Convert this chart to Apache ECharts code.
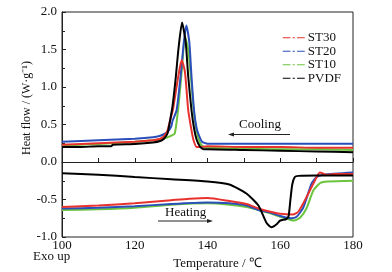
<!DOCTYPE html>
<html>
<head>
<meta charset="utf-8">
<script src="https://cdn.jsdelivr.net/npm/echarts@6/dist/echarts.min.js"></script>
<style>
  html, body { margin: 0; padding: 0; background: #fff; }
  #chart { width: 392px; height: 272px; }
</style>
</head>
<body>
<div id="chart"></div>
<script>
// DSC curves, temperature in degC, heat flow in W/g
const xTicks = [100, 120, 140, 160, 180];
const yTicks = [-1.0, -0.5, 0.0, 0.5, 1.0, 1.5, 2.0];

// cooling (upper) curves
const coolT_ST30 = [100, 110, 120, 125, 127, 128, 129, 129.7, 130.5, 131, 132, 132.9, 133.8, 134.7, 135.5, 136.1, 137, 138, 140, 150, 160, 170, 180];
const coolV_ST30 = [0.23, 0.25, 0.27, 0.29, 0.31, 0.34, 0.42, 0.55, 0.7, 0.85, 1.15, 1.36, 1.2, 0.69, 0.45, 0.3, 0.2, 0.2, 0.21, 0.2, 0.2, 0.19, 0.19];

const coolT_ST20 = [100, 110, 120, 125, 127, 128, 129, 130, 130.4, 131.5, 132.6, 133.5, 134.2, 135, 135.6, 136.3, 137, 137.7, 138.5, 139.5, 140, 150, 160, 170, 180];
const coolV_ST20 = [0.27, 0.29, 0.31, 0.33, 0.35, 0.37, 0.4, 0.47, 0.55, 0.69, 1.14, 1.6, 1.82, 1.6, 1.14, 0.69, 0.45, 0.35, 0.27, 0.25, 0.245, 0.245, 0.245, 0.245, 0.245];

const coolT_ST10 = [100, 110, 120, 125, 127, 128, 129, 130, 131, 131.9, 132.9, 133.8, 134.7, 135.5, 136.2, 137, 138, 139, 140, 150, 160, 170, 180];
const coolV_ST10 = [0.22, 0.24, 0.27, 0.29, 0.3, 0.31, 0.33, 0.35, 0.38, 0.69, 1.2, 1.67, 1.5, 1.1, 0.69, 0.42, 0.25, 0.2, 0.19, 0.18, 0.17, 0.17, 0.16];

const coolT_PVDF = [100, 105, 110, 113.5, 114, 120, 125, 127, 128, 129, 129.7, 130.4, 131.3, 132, 133, 134, 134.7, 135.6, 136.3, 137, 138, 139, 140, 150, 160, 170, 180];
const coolV_PVDF = [0.2, 0.2, 0.21, 0.21, 0.23, 0.24, 0.26, 0.28, 0.31, 0.38, 0.55, 0.75, 1.14, 1.5, 1.86, 1.6, 1.14, 0.69, 0.45, 0.3, 0.2, 0.17, 0.17, 0.16, 0.15, 0.14, 0.13];

// heating (lower) curves
const heatT_ST30 = [100, 110, 120, 130, 135, 140, 146, 150.7, 154, 157, 160, 163.5, 165, 167.2, 169.5, 170.9, 172.7, 175, 180];
const heatV_ST30 = [-0.6, -0.58, -0.55, -0.51, -0.49, -0.48, -0.52, -0.56, -0.62, -0.66, -0.69, -0.7, -0.66, -0.47, -0.25, -0.14, -0.17, -0.16, -0.16];

const heatT_ST20 = [100, 110, 120, 130, 140, 146, 150.7, 154, 157, 160, 163, 164.5, 166.3, 168.6, 170, 172, 180];
const heatV_ST20 = [-0.62, -0.61, -0.59, -0.56, -0.54, -0.55, -0.58, -0.64, -0.67, -0.72, -0.75, -0.73, -0.61, -0.29, -0.2, -0.17, -0.14];

const heatT_ST10 = [100, 110, 120, 130, 140, 146, 150.7, 154, 157, 160, 163.8, 165.5, 167.2, 169.1, 171, 173, 180];
const heatV_ST10 = [-0.64, -0.63, -0.61, -0.57, -0.55, -0.57, -0.6, -0.64, -0.68, -0.73, -0.78, -0.74, -0.62, -0.38, -0.28, -0.26, -0.25];

const heatT_PVDF = [100, 110, 120, 130, 140, 146, 150.7, 154, 156.2, 157.6, 159, 160, 161.7, 162.3, 162.8, 163.3, 164, 165, 170, 180];
const heatV_PVDF = [-0.15, -0.17, -0.2, -0.23, -0.26, -0.3, -0.42, -0.58, -0.81, -0.87, -0.83, -0.78, -0.76, -0.72, -0.5, -0.3, -0.2, -0.185, -0.18, -0.18];

const names = ["ST30", "ST20", "ST10", "PVDF"];
const colors = { ST30: "#e8322e", ST20: "#2b4fba", ST10: "#6cc43e", PVDF: "#000000" };

var chartDom = document.getElementById("chart");
var myChart = echarts.init(chartDom);
var option;

function pairs(t, v) {
  return t.map((x, i) => [x, v[i]]);
}

function makeSeries(name, t, v) {
  return {
    name: name,
    type: "line",
    data: pairs(t, v),
    showSymbol: false,
    symbol: "none",
    smooth: 0.2,
    lineStyle: { width: 2, color: colors[name] },
    itemStyle: { color: colors[name] },
  };
}

const serif = "Liberation Serif";
// dash-dot legend icon
const dashDot = "path://M0,0H7V1H0Z M9,0H11V1H9Z M13,0H20V1H13Z";

option = {
  animation: false,
  backgroundColor: "#ffffff",
  grid: {
    left: 62,
    right: 39,
    top: 12,
    bottom: 35,
    outerBoundsMode: "none",
    containLabel: false,
    show: true,
    borderColor: "#222",
    borderWidth: 1,
  },
  legend: {
    data: names.map((n) => ({ name: n, icon: dashDot })),
    orient: "vertical",
    right: 46,
    top: 26,
    itemGap: 0,
    itemWidth: 22,
    itemHeight: 1.5,
    textStyle: { fontFamily: serif, fontSize: 13, color: "#111", lineHeight: 13.5, padding: [0, 0, 0, -2] },
  },
  xAxis: {
    type: "value",
    min: 100,
    max: 180,
    interval: 20,
    name: "Temperature / ℃",
    nameLocation: "middle",
    nameGap: 20,
    nameTextStyle: { fontFamily: serif, fontSize: 13, color: "#111", padding: [0, 0, 0, 20] },
    axisLine: { show: true, lineStyle: { color: "#222", width: 1 } },
    axisTick: { show: true, inside: true, length: 4, lineStyle: { color: "#222" } },
    minorTick: { show: true, splitNumber: 2, length: 4, lineStyle: { color: "#222" } },
    splitLine: { show: false },
    axisLabel: {
      fontFamily: serif,
      fontSize: 13,
      color: "#111",
      margin: 2,
      formatter: (v) => (xTicks.includes(v) ? String(v) : ""),
    },
  },
  yAxis: {
    type: "value",
    min: -1.0,
    max: 2.0,
    interval: 0.5,
    axisLine: { show: true, lineStyle: { color: "#222", width: 1 } },
    axisTick: { show: true, inside: true, length: 4, lineStyle: { color: "#222" } },
    minorTick: { show: true, splitNumber: 2, length: 3, lineStyle: { color: "#222" } },
    splitLine: { show: false },
    axisLabel: {
      fontFamily: serif,
      fontSize: 13,
      color: "#111",
      margin: 5,
      formatter: (v) => (yTicks.some((t) => Math.abs(t - v) < 1e-6) ? v.toFixed(1) : ""),
    },
  },
  graphic: [
    {
      type: "text",
      x: 27,
      y: 108,
      rotation: Math.PI / 2,
      style: {
        text: "Heat flow / (W·g⁻¹)",
        fontFamily: serif,
        fontSize: 12,
        fill: "#111",
        align: "center",
        verticalAlign: "middle",
      },
    },
    {
      type: "text",
      x: 33,
      y: 257,
      style: { text: "Exo up", fontFamily: serif, fontSize: 13, fill: "#111", verticalAlign: "middle" },
    },
    {
      type: "text",
      x: 239,
      y: 125,
      style: { text: "Cooling", fontFamily: serif, fontSize: 13, fill: "#111", verticalAlign: "middle" },
    },
    {
      type: "line",
      shape: { x1: 230, y1: 134.5, x2: 290, y2: 134.5 },
      style: { stroke: "#222", lineWidth: 1 },
    },
    {
      type: "polygon",
      shape: { points: [[228, 134.5], [234, 132.5], [234, 136.5]] },
      style: { fill: "#222" },
    },
    {
      type: "text",
      x: 165,
      y: 213,
      style: { text: "Heating", fontFamily: serif, fontSize: 13, fill: "#111", verticalAlign: "middle" },
    },
    {
      type: "line",
      shape: { x1: 158, y1: 221, x2: 210, y2: 221 },
      style: { stroke: "#222", lineWidth: 1 },
    },
    {
      type: "polygon",
      shape: { points: [[213, 221], [207, 219], [207, 223]] },
      style: { fill: "#222" },
    },
  ],
  series: [
    makeSeries("ST10", coolT_ST10, coolV_ST10),
    makeSeries("ST10", heatT_ST10, heatV_ST10),
    makeSeries("ST20", coolT_ST20, coolV_ST20),
    makeSeries("ST20", heatT_ST20, heatV_ST20),
    makeSeries("ST30", coolT_ST30, coolV_ST30),
    makeSeries("ST30", heatT_ST30, heatV_ST30),
    makeSeries("PVDF", coolT_PVDF, coolV_PVDF),
    makeSeries("PVDF", heatT_PVDF, heatV_PVDF),
  ],
};

option && myChart.setOption(option);
</script>
</body>
</html>
